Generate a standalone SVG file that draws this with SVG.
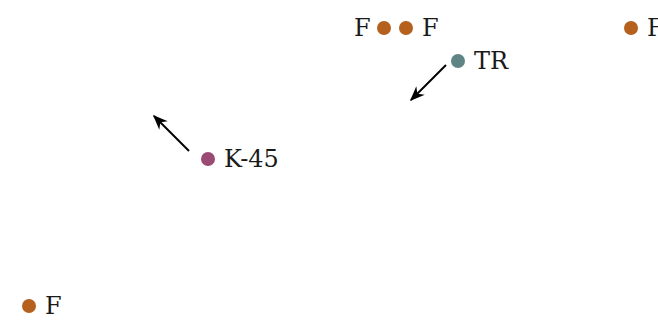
<svg xmlns="http://www.w3.org/2000/svg" width="658" height="322" viewBox="0 0 658 322">
<defs>
<style>
text{font-family:"DejaVu Serif","Liberation Serif",serif;font-size:24px;fill:#1a1a1a}
.f{fill:#b5601c}.t{fill:#5f8486}.k{fill:#9b4a74}
.c{stroke:#000;stroke-width:2;fill:none;marker-end:url(#ah)}
</style>
<marker id="ah" viewBox="0 0 10 10" refX="9" refY="5" markerWidth="15" markerHeight="15" markerUnits="userSpaceOnUse" orient="auto"><path d="M0,1 L10,5 L0,9 L3,5 Z" fill="#000"/></marker>
</defs>
<rect width="658" height="322" fill="#fff"/>
<g id="connectors">
<line class="c" x1="446" y1="65" x2="411" y2="100"/>
<line class="c" x1="189" y1="151" x2="154" y2="116"/>
</g>
<g id="f1"><circle class="f" cx="384" cy="28" r="7"/><text x="354" y="36">F</text></g>
<g id="f2"><circle class="f" cx="406" cy="28" r="7"/><text x="422" y="36">F</text></g>
<g id="tr"><circle class="t" cx="458" cy="61" r="7"/><text x="474" y="69">TR</text></g>
<g id="k45"><circle class="k" cx="208" cy="159" r="7"/><text x="224" y="167">K-45</text></g>
<g id="f3"><circle class="f" cx="631" cy="28" r="7"/><text x="647" y="36">F</text></g>
<g id="f4"><circle class="f" cx="29" cy="306" r="7"/><text x="45" y="314">F</text></g>
</svg>
